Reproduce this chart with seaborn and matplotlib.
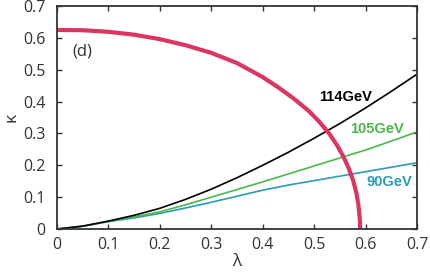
import pandas as pd
import seaborn as sns
import matplotlib.pyplot as plt

# values
lam_red = [0, 0.05, 0.1, 0.15, 0.2, 0.25, 0.3, 0.35, 0.4, 0.43, 0.46, 0.49, 0.51,
           0.53, 0.545, 0.557, 0.567, 0.576, 0.582, 0.586, 0.588, 0.5893, 0.5895]
kap_red = [0.625, 0.624, 0.619, 0.610, 0.596, 0.577, 0.553, 0.521, 0.477, 0.445, 0.410, 0.370, 0.337,
           0.298, 0.262, 0.227, 0.192, 0.152, 0.114, 0.077, 0.046, 0.02, 0]

lam = [0, 0.05, 0.1, 0.15, 0.2, 0.25, 0.3, 0.35, 0.4, 0.45, 0.5, 0.55, 0.6, 0.65, 0.7]
kap_114 = [0, 0.009, 0.025, 0.043, 0.065, 0.093, 0.125, 0.161, 0.200, 0.241, 0.285, 0.331, 0.380, 0.432, 0.486]
kap_105 = [0, 0.009, 0.024, 0.038, 0.054, 0.076, 0.100, 0.124, 0.148, 0.173, 0.198, 0.223, 0.248, 0.276, 0.305]
kap_90 = [0, 0.009, 0.023, 0.035, 0.049, 0.066, 0.084, 0.103, 0.122, 0.138, 0.152, 0.166, 0.180, 0.194, 0.208]

sns.set_style('ticks')
plt.rcParams['font.family'] = ['Open Sans', 'DejaVu Sans']

fig = plt.figure(figsize=(4.31, 2.73), dpi=100)
ax = fig.add_axes([0.132, 0.161, 0.8355, 0.817])

df = pd.DataFrame({'lam': lam, 'k114': kap_114, 'k105': kap_105, 'k90': kap_90})
sns.lineplot(data=df, x='lam', y='k90', color='#2a9bb8', lw=1.2, ax=ax)
sns.lineplot(data=df, x='lam', y='k105', color='#4cb84a', lw=1.2, ax=ax)
sns.lineplot(data=df, x='lam', y='k114', color='black', lw=1.2, ax=ax)

red = pd.DataFrame({'lam': lam_red, 'kap': kap_red})
sns.lineplot(data=red, x='lam', y='kap', color='#dc3560', lw=3, sort=False, ax=ax)

ax.set_xlim(0, 0.7)
ax.set_ylim(0, 0.7)
ticks = [0, 0.1, 0.2, 0.3, 0.4, 0.5, 0.6, 0.7]
labels = ['0', '0.1', '0.2', '0.3', '0.4', '0.5', '0.6', '0.7']
ax.set_xticks(ticks)
ax.set_xticklabels(labels)
ax.set_yticks(ticks)
ax.set_yticklabels(labels)
ax.tick_params(direction='in', length=3.5, width=1, top=True, right=True,
               labelsize=11.5, colors='#333333')
ax.tick_params(axis='x', pad=5.5)
ax.tick_params(axis='y', pad=8)
for s in ax.spines.values():
    s.set_linewidth(1.3)
    s.set_color('#333333')

ax.set_xlabel('λ', fontsize=12.5, color='#333333', labelpad=1)
ax.set_ylabel('κ', fontsize=12.5, color='#333333', labelpad=3)

ax.text(0.05, 0.556, '(d)', fontsize=12, color='#333333', ha='center', va='center')
ax.text(0.562, 0.413, '114GeV', fontsize=10.5, fontweight='bold', family='Liberation Sans',
        color='black', ha='center', va='center')
ax.text(0.623, 0.315, '105GeV', fontsize=10.5, fontweight='bold', family='Liberation Sans',
        color='#4cb84a', ha='center', va='center')
ax.text(0.646, 0.148, '90GeV', fontsize=10.5, fontweight='bold', family='Liberation Sans',
        color='#2a9bb8', ha='center', va='center')

fig.savefig('out.png', dpi=100)
